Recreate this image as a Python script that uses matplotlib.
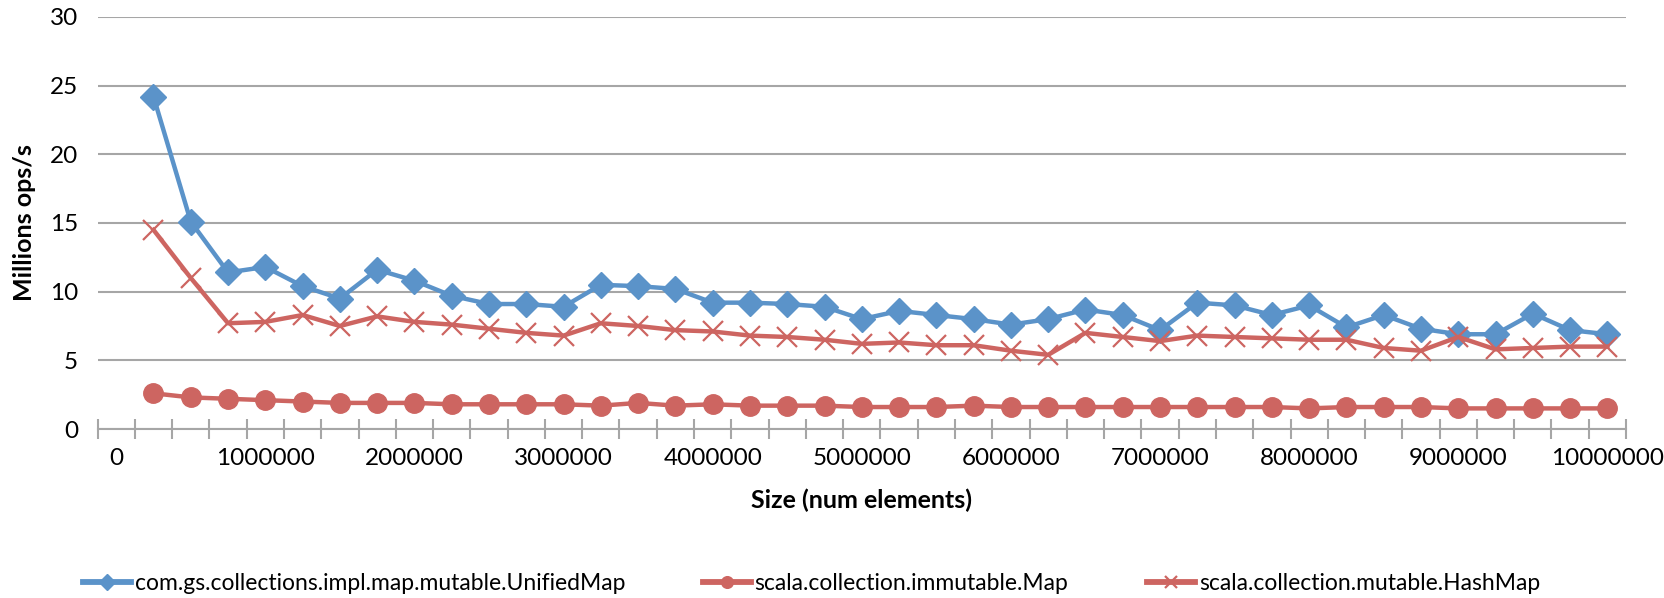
import matplotlib.pyplot as plt
from matplotlib.ticker import MultipleLocator, FixedLocator

# sizes go 250000 .. 10000000 in steps of 250000
sizes = [250000 * i for i in range(1, 41)]

unified_map = [24.2, 15.1, 11.4, 11.8, 10.4, 9.5, 11.6, 10.8, 9.7, 9.1,
               9.1, 8.9, 10.5, 10.4, 10.2, 9.2, 9.2, 9.1, 8.9, 8.0,
               8.6, 8.3, 8.0, 7.6, 8.0, 8.7, 8.3, 7.2, 9.2, 9.0,
               8.3, 9.0, 7.4, 8.3, 7.3, 6.9, 6.9, 8.4, 7.2, 6.9]

immutable_map = [2.6, 2.3, 2.2, 2.1, 2.0, 1.9, 1.9, 1.9, 1.8, 1.8,
                 1.8, 1.8, 1.7, 1.9, 1.7, 1.8, 1.7, 1.7, 1.7, 1.6,
                 1.6, 1.6, 1.7, 1.6, 1.6, 1.6, 1.6, 1.6, 1.6, 1.6,
                 1.6, 1.5, 1.6, 1.6, 1.6, 1.5, 1.5, 1.5, 1.5, 1.5]

hash_map = [14.5, 11.0, 7.7, 7.8, 8.3, 7.5, 8.2, 7.8, 7.6, 7.3,
            7.0, 6.8, 7.7, 7.5, 7.2, 7.1, 6.8, 6.7, 6.5, 6.2,
            6.3, 6.1, 6.1, 5.7, 5.4, 7.0, 6.7, 6.4, 6.8, 6.7,
            6.6, 6.5, 6.5, 5.9, 5.7, 6.7, 5.8, 5.9, 6.0, 6.0]

labels = ["com.gs.collections.impl.map.mutable.UnifiedMap",
          "scala.collection.immutable.Map",
          "scala.collection.mutable.HashMap"]

blue = "#5B93C9"
red = "#CD6561"
grid_col = "#A6A6A6"

plt.rcParams["font.family"] = ["Lato", "DejaVu Sans"]

fig = plt.figure(figsize=(16.65, 5.98), dpi=100)
ax = fig.add_axes([0.0586, 0.2826, 0.918, 0.6890])

l1, = ax.plot(sizes, unified_map, color=blue, lw=3.2, marker="D", ms=13, zorder=3)
l2, = ax.plot(sizes, immutable_map, color=red, lw=3.2, marker="o", ms=14, zorder=3)
l3, = ax.plot(sizes, hash_map, color=red, lw=3.2, marker="x", ms=14, mew=1.6, zorder=3)

ax.set_xlim(-125000, 10125000)
ax.set_ylim(0, 30)

# category-style axis: labels every 1000000, cross ticks between categories
ax.xaxis.set_major_locator(MultipleLocator(1000000))
ax.xaxis.set_minor_locator(FixedLocator([-125000 + 250000 * k for k in range(42)]))
ax.tick_params(axis="x", which="major", length=0, pad=14, labelsize=17.5)
ax.tick_params(axis="x", which="minor", direction="inout", length=14,
               width=1.5, color=grid_col)
ax.set_xticklabels([str(int(v)) for v in ax.get_xticks()])

ax.yaxis.set_major_locator(MultipleLocator(5))
ax.tick_params(axis="y", length=0, pad=14, labelsize=17.5)
ax.grid(axis="y", color=grid_col, lw=1.5)
ax.set_axisbelow(True)

for s in ["top", "right", "left"]:
    ax.spines[s].set_visible(False)
ax.spines["bottom"].set_color(grid_col)
ax.spines["bottom"].set_linewidth(1.5)

ax.set_xlabel("Size (num elements)", fontsize=18, fontweight="bold", labelpad=14)
ax.set_ylabel("Millions ops/s", fontsize=18, fontweight="bold", labelpad=10)

# one legend box per series so each entry sits where it should
legend_x = [0.050, 0.422, 0.689]
for handle, text, lx in zip([l1, l2, l3], labels, legend_x):
    leg = fig.legend([handle], [text], loc="center left",
                     bbox_to_anchor=(lx, 0.025), frameon=False, fontsize=16.5,
                     handlelength=2.1, handletextpad=0.15, borderpad=0,
                     borderaxespad=0, markerscale=0.6)
    for ln in leg.get_lines():
        ln.set_linewidth(4.2)

fig.savefig("out.png", dpi=100)
